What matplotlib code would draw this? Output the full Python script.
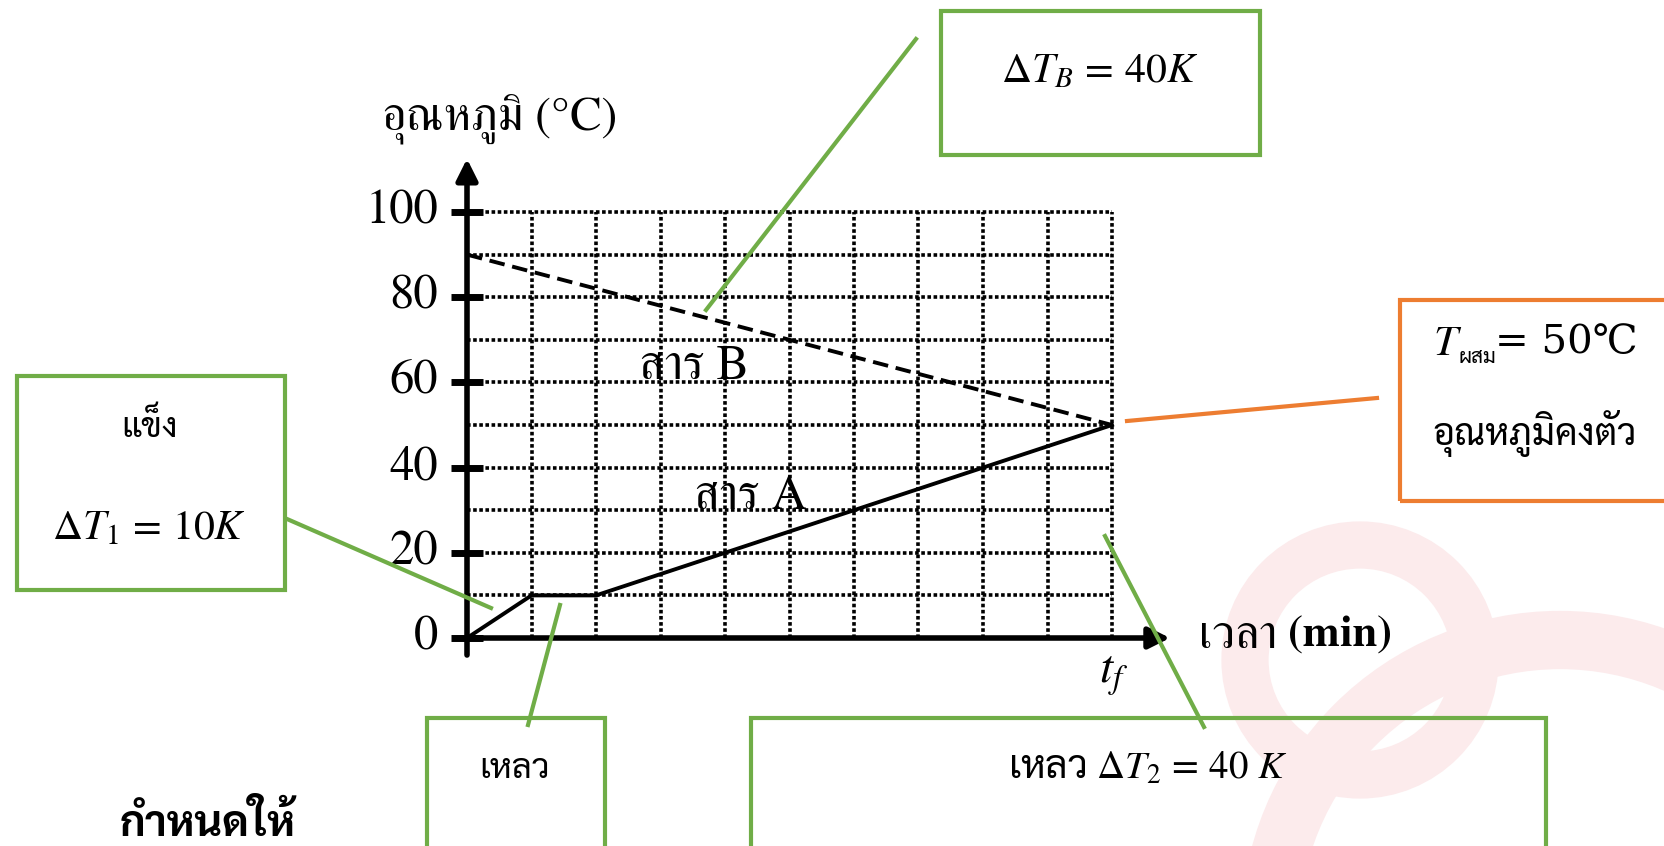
import matplotlib
matplotlib.use("Agg")
import matplotlib.pyplot as plt
from matplotlib.patches import Rectangle, Circle
from matplotlib.lines import Line2D

# ---------------- data ----------------
time_A = [0, 1, 2, 10]
temp_A = [0, 10, 10, 50]
time_B = [0, 10]
temp_B = [90, 50]
y_ticks = [0, 20, 40, 60, 80, 100]
grid_x = [1, 2, 3, 4, 5, 6, 7, 8, 9, 10]
grid_y = [10, 20, 30, 40, 50, 60, 70, 80, 90, 100]

# ---------------- fonts ----------------
SERIF = ['FreeSerif', 'Liberation Serif', 'DejaVu Serif']
THAI = ['Sarabun', 'FreeSerif', 'DejaVu Sans']
plt.rcParams['mathtext.fontset'] = 'stix'

W, H = 1664, 846
fig = plt.figure(figsize=(W / 100, H / 100), dpi=100)

def fx(x):
    return x / W

def fy(y):
    return 1 - y / H

# ---- faint watermark (background decoration) ----
wm = fig.add_axes([0, 0, 1, 1], zorder=-5)
wm.set_xlim(0, W)
wm.set_ylim(H, 0)
wm.axis('off')
wm.add_patch(Circle((1560, 930), 290, fill=False, edgecolor='#FCEBEC', linewidth=42))
wm.add_patch(Circle((1360, 660), 115, fill=False, edgecolor='#FCEBEC', linewidth=34))

# axes placement: data x 0 -> px 467, x 10 -> px 1112; y 0 -> px 638, y 100 -> px 212
x0p, x10p = 467.0, 1112.0
y0p, y100p = 638.0, 212.0
xmin, xmax = -0.6, 11.3
ymin, ymax = -8, 114
ux = (x10p - x0p) / 10
uy = (y0p - y100p) / 100
ax = fig.add_axes([fx(x0p + xmin * ux), fy(y0p - ymin * uy),
                   (xmax - xmin) * ux / W, (ymax - ymin) * uy / H])
ax.set_xlim(xmin, xmax)
ax.set_ylim(ymin, ymax)
ax.axis('off')
ax.patch.set_alpha(0)

# dotted grid
dot = (0, (1.0, 0.7))
ax.hlines(grid_y, 0, 10, colors='black', linestyles=[dot], linewidth=2.6, zorder=1)
ax.vlines(grid_x, 0, 100, colors='black', linestyles=[dot], linewidth=2.6, zorder=1)

# axes with arrows
ax.annotate('', xy=(10.9, 0), xytext=(0, 0),
            arrowprops=dict(arrowstyle='-|>', lw=4, color='black',
                            mutation_scale=32, shrinkA=0, shrinkB=0), zorder=3)
ax.annotate('', xy=(0, 112.5), xytext=(0, -4),
            arrowprops=dict(arrowstyle='-|>', lw=4, color='black',
                            mutation_scale=32, shrinkA=0, shrinkB=0), zorder=3)

# y ticks and labels
for v in y_ticks:
    ax.plot([-0.25, 0.25], [v, v], color='black', lw=5, solid_capstyle='butt', zorder=3)
    ax.text(-0.45, v, str(v), ha='right', va='center', fontsize=35, family=SERIF)

# data lines
ax.plot(time_A, temp_A, color='black', lw=2.8, zorder=4)
ax.plot(time_B, temp_B, color='black', lw=2.8, linestyle=(0, (4, 2)), zorder=4)

ax.text(3.5, 63.5, 'สาร B', ha='center', va='center', fontsize=35, family=SERIF)
ax.text(4.4, 33, 'สาร A', ha='center', va='center', fontsize=35, family=SERIF)

# axis titles
fig.text(fx(500), fy(120), 'อุณหภูมิ (°C)', ha='center', va='center', fontsize=34, family=SERIF)
fig.text(fx(1199), fy(637), 'เวลา', ha='left', va='center', fontsize=34, family=SERIF)
fig.text(fx(1288), fy(636), '(min)', ha='left', va='center', fontsize=32, family=SERIF,
         fontweight='bold')
fig.text(fx(1114), fy(676), r'$t_f$', ha='center', va='center', fontsize=34)
fig.text(fx(120), fy(824), 'กำหนดให้', ha='left', va='center', fontsize=31,
         family=THAI, fontweight='bold')

GREEN = '#70AD47'
ORANGE = '#ED7D31'

def box(x1, y1, x2, y2, color):
    r = Rectangle((fx(x1), fy(y2)), fx(x2) - fx(x1), fy(y1) - fy(y2),
                  transform=fig.transFigure, fill=False, edgecolor=color,
                  linewidth=3, zorder=5, clip_on=False)
    fig.add_artist(r)

def seg(x1, y1, x2, y2, color):
    fig.add_artist(Line2D([fx(x1), fx(x2)], [fy(y1), fy(y2)], transform=fig.transFigure,
                          color=color, linewidth=3, zorder=6))

# Delta T_B box
box(941, 11, 1260, 155, GREEN)
seg(916, 39, 706, 310, GREEN)
fig.text(fx(1100), fy(70), r'$\Delta T_B\,=\,40K$', ha='center', va='center', fontsize=30)

# orange box
box(1400, 300, 1680, 501, ORANGE)
seg(1377, 398, 1127, 421, ORANGE)
fig.text(fx(1433), fy(343), r'$T$', ha='left', va='center', fontsize=31)
fig.text(fx(1459), fy(357), 'ผสม', ha='left', va='center', fontsize=15, family=THAI)
fig.text(fx(1495), fy(343), '= 50℃', ha='left', va='center', fontsize=29,
         family=['DejaVu Serif'])
fig.text(fx(1535), fy(433), 'อุณหภูมิคงตัว', ha='center', va='center', fontsize=27, family=THAI)

# left box
box(17, 376, 285, 590, GREEN)
seg(287, 519, 491, 608, GREEN)
fig.text(fx(149), fy(427), 'แข็ง', ha='center', va='center', fontsize=25, family=THAI)
fig.text(fx(149), fy(527), r'$\Delta T_1\,=\,10K$', ha='center', va='center', fontsize=30)

# liquid box
box(427, 718, 605, 860, GREEN)
seg(528, 725, 560, 605, GREEN)
fig.text(fx(515), fy(769), 'เหลว', ha='center', va='center', fontsize=25, family=THAI)

# wide box
box(751, 718, 1546, 860, GREEN)
seg(1204, 727, 1105, 536, GREEN)
fig.text(fx(1148), fy(769), r'เหลว $\Delta T_2\,=\,40\ K$', ha='center', va='center',
         fontsize=28, family=THAI)

fig.savefig('out.png', dpi=100, facecolor='white')
